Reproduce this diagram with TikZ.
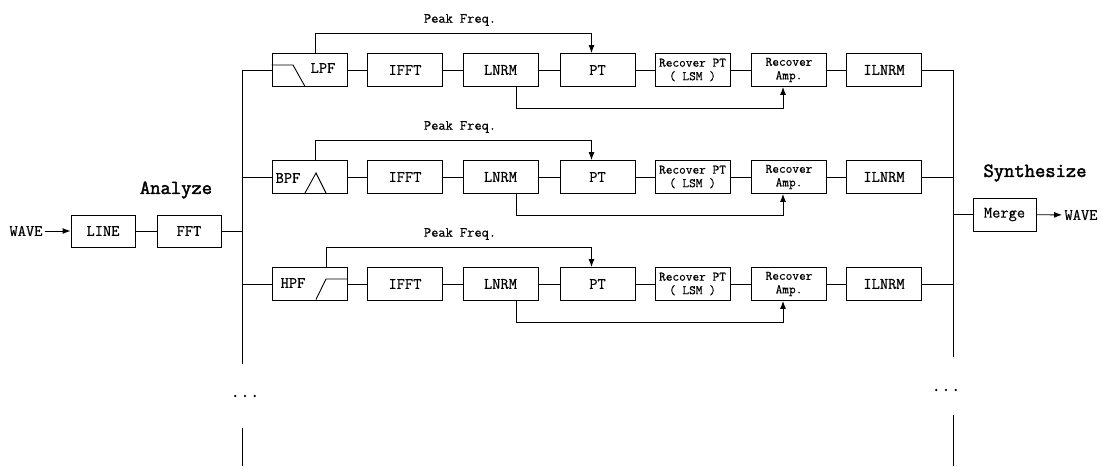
\documentclass[tikz,border=0pt]{standalone}
\usepackage{fontspec}
\usetikzlibrary{arrows.meta}
\newfontfamily\diagfont{Latin Modern Mono}[FakeBold=0.5]
\newfontfamily\ttlfont{Latin Modern Mono}[FakeBold=2.2]
\begin{document}
\begin{tikzpicture}[x=1pt, y=-1pt, line width=0.9pt]
        \tikzstyle{blk} = [draw, rectangle, minimum width=75pt, minimum height=33pt, inner sep=1pt, align=center, font=\diagfont\fontsize{16}{16}\selectfont]
        \tikzstyle{sblk} = [blk, font=\diagfont\fontsize{13}{13.5}\selectfont]
        \tikzstyle{lbl} = [inner sep=1pt, font=\diagfont\fontsize{14}{14}\selectfont]
        \tikzstyle{wv} = [inner sep=2pt, font=\diagfont\fontsize{16}{16}\selectfont]
        \tikzstyle{ttl} = [font=\ttlfont\fontsize{20}{20}\selectfont]
        \tikzstyle{arr} = [-{Latex[length=8pt, width=6pt]}]
        \useasboundingbox (0,0) rectangle (1102,466);
        % analyze side
        \node[wv] (win) at (26,231) {WAVE};
        \node[blk, minimum width=64pt, minimum height=32pt] (line) at (103,231) {LINE};
        \node[blk, minimum width=64pt, minimum height=32pt] (fft) at (189,231) {FFT};
        \node[ttl] (ana) at (176,190) {Analyze};
        \coordinate (lbus) at (242,0);
        \coordinate (rbus) at (953,0);
        \draw[arr] (win) -- (line);
        \draw (line) -- (fft);
        \draw (fft.east) -- (fft.east -| lbus);
        % three bands
        \foreach \r/\y/\px in {1/70/5.5, 2/177/5.5, 3/284/16.5} {
          \node[blk] (f\r) at (309.5,\y) {};
          \node[blk] (ifft\r) at (405,\y) {IFFT};
          \node[blk] (lnrm\r) at (500.5,\y) {LNRM};
          \node[blk] (pt\r) at (597.5,\y) {PT};
          \node[sblk] (rpt\r) at (692.5,\y) {Recover PT\\( LSM )};
          \node[sblk] (ramp\r) at (789,\y) {Recover\\Amp.};
          \node[blk] (ilnrm\r) at (884,\y) {ILNRM};
          \node[lbl] (pk\r) at (460,\y-50) {Peak Freq.};
          \draw (f\r) -- (ifft\r) -- (lnrm\r) -- (pt\r) -- (rpt\r) -- (ramp\r) -- (ilnrm\r);
          \draw[arr] ([xshift=\px pt]f\r.north) |- ([xshift=-6pt, yshift=20pt]pt\r.north) -- ([xshift=-6pt]pt\r.north);
          \draw[arr] ([xshift=16pt]lnrm\r.south) |- ([xshift=-6pt, yshift=-21pt]ramp\r.south) -- ([xshift=-6pt]ramp\r.south);
        }
        % filter shapes
        \node[blk, draw=none, inner sep=0pt] (lpft) at (323,68) {LPF};
        \draw (f1.west |- 0,65) -- (293,65) -- (305,86.5);
        \node[blk, draw=none, inner sep=0pt] (bpft) at (288,178) {BPF};
        \draw (305,193) -- (316,173) -- (326,193);
        \node[blk, draw=none, inner sep=0pt] (hpft) at (293,283) {HPF};
        \draw (316,299.5) -- (326,279) -- (f3.east |- 0,279);
        % buses
        \draw (f1.west) -| (242,364);
        \draw (f2.west) -- (f2.west -| lbus);
        \draw (f3.west) -- (f3.west -| lbus);
        \draw (242,428) -- (242,466);
        \node[lbl, font=\diagfont\fontsize{19}{19}\selectfont] (ldots) at (245,396) {...};
        \draw (ilnrm1.east) -| (953,357);
        \draw (ilnrm2.east) -- (ilnrm2.east -| rbus);
        \draw (ilnrm3.east) -- (ilnrm3.east -| rbus);
        \draw (953,415) -- (953,466);
        \node[lbl, font=\diagfont\fontsize{19}{19}\selectfont] (rdots) at (946,390) {...};
        % synthesize side
        \node[ttl] (syn) at (1035,173) {Synthesize};
        \node[blk, minimum width=63pt] (merge) at (1004.5,214.5) {Merge};
        \node[wv] (wout) at (1081,215) {WAVE};
        \draw (merge.west) -- (merge.west -| rbus);
        \draw[arr] (merge) -- (wout);
      \end{tikzpicture}
\end{document}
